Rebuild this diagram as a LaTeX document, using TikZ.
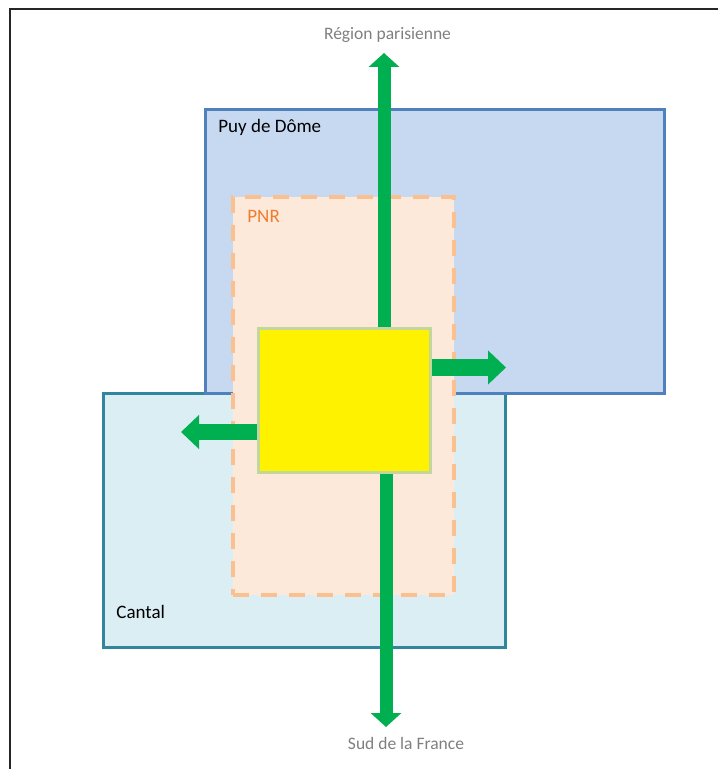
\documentclass[tikz,border=0pt]{standalone}
\usepackage{fontspec}
\setmainfont{Carlito}
\usetikzlibrary{arrows.meta}
\definecolor{puyfill}{HTML}{C6D9F1}
\definecolor{puyline}{HTML}{4F81BD}
\definecolor{cantalfill}{HTML}{DAEEF3}
\definecolor{cantalline}{HTML}{31859C}
\definecolor{pnrfill}{HTML}{FDE9D9}
\definecolor{pnrline}{HTML}{FAC090}
\definecolor{pnrtext}{HTML}{ED7D31}
\definecolor{sqline}{HTML}{C3D69B}
\definecolor{flowgreen}{HTML}{00B050}
\definecolor{labelgray}{HTML}{7F7F7F}
\tikzset{
    flowv/.style={draw=flowgreen, line width=6.5pt, -{Triangle[width=15pt,length=7pt]}},
    flowh/.style={draw=flowgreen, line width=8pt, -{Triangle[width=16.5pt,length=9pt]}},
}
\begin{document}
\begin{tikzpicture}[x=0.5pt,y=-0.5pt]
    \useasboundingbox (0,0) rectangle (718,769);
    \draw[line width=1pt, black!85] (718,9) -| (10,769);
    \begin{scope}
        \tikzstyle{every node}=[rectangle, line width=1.5pt, inner sep=0pt]
        \node[fill=cantalfill, draw=cantalline, minimum width=201pt, minimum height=127pt] (cantal) at (304,520) {};
        \node[fill=puyfill, draw=puyline, minimum width=229.5pt, minimum height=141.5pt] (puy) at (434.5,251.5) {};
        \node[fill=pnrfill, draw=pnrline, line width=1.75pt, dash pattern=on 8pt off 6pt, minimum width=110.5pt, minimum height=199pt] (pnr) at (343.5,396) {};
        \node[fill=yellow, draw=sqline, minimum width=86pt, minimum height=71.5pt] (sq) at (344,400.5) {};
    \end{scope}
    \begin{scope}
        \tikzstyle{every node}=[inner sep=0pt, font=\fontsize{9.5}{11}\selectfont]
        \node[anchor=base west] (puylabel) at (218,133) {Puy de Dôme};
        \node[anchor=base west] (cantallabel) at (116,618) {Cantal};
        \node[anchor=base west, text=pnrtext] (pnrlabel) at (247,223) {PNR};
        \node[anchor=base, text=labelgray, font=\fontsize{8.75}{10}\selectfont] (nord) at (387.5,40) {Région parisienne};
        \node[anchor=base, text=labelgray, font=\fontsize{8.75}{10}\selectfont] (sud) at (406,749) {Sud de la France};
    \end{scope}
    \coordinate (nTip) at (384,53);
    \coordinate (sTip) at (386,727);
    \coordinate (eTip) at (506,367.5);
    \coordinate (wTip) at (181,432);
    \begin{scope}
        \path
        (sq.north -| nTip) edge[flowv] (nTip)
        (sq.south -| sTip) edge[flowv] (sTip)
        (sq.east |- eTip) edge[flowh] (eTip)
        (sq.west |- wTip) edge[flowh] (wTip);
    \end{scope}
\end{tikzpicture}
\end{document}
